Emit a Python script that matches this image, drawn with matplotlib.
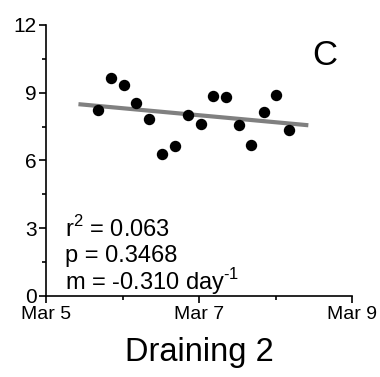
import matplotlib
matplotlib.use("Agg")
from matplotlib import pyplot as plt
from matplotlib.ticker import MultipleLocator
import numpy as np

plt.rcParams['font.family'] = ['Liberation Sans', 'DejaVu Sans']
plt.rcParams['mathtext.fontset'] = 'custom'
plt.rcParams['mathtext.rm'] = 'Liberation Sans'

# sampling times in days after Mar 5 00:00, measured values
days = [0.68, 0.85, 1.02, 1.18, 1.35, 1.52, 1.68, 1.86,
        2.02, 2.18, 2.35, 2.52, 2.68, 2.85, 3.01, 3.18]
values = [8.22, 9.66, 9.32, 8.52, 7.84, 6.27, 6.64, 8.00,
          7.61, 8.86, 8.80, 7.56, 6.67, 8.15, 8.89, 7.36]

# regression line
slope = -0.310
intercept = 8.62
fit_days = [0.42, 3.43]

xtick_pos = [0, 2, 4]
xtick_labels = ["Mar 5", "Mar 7", "Mar 9"]

fig = plt.figure(figsize=(3.8, 3.77), dpi=100)
ax = fig.add_axes([0.122, 0.215, 0.804, 0.719])

fit_x = np.array(fit_days)
ax.plot(fit_x, intercept + slope * fit_x, color="#808080", lw=3, solid_capstyle="butt", zorder=2)
ax.plot(days, values, "o", color="black", ms=7.2, zorder=3)

ax.set_xlim(0, 4)
ax.set_ylim(0, 12)
ax.set_xticks(xtick_pos)
ax.set_xticklabels(xtick_labels)
ax.xaxis.set_minor_locator(MultipleLocator(1))
ax.set_yticks([0, 3, 6, 9, 12])
ax.yaxis.set_minor_locator(MultipleLocator(1.5))

for side in ["top", "right"]:
    ax.spines[side].set_visible(False)
for side in ["left", "bottom"]:
    ax.spines[side].set_linewidth(1.2)

ax.tick_params(which="major", direction="out", length=5, width=1.2, labelsize=15, pad=2)
ax.tick_params(which="minor", direction="out", length=3, width=1.2)
ax.tick_params(axis="x", labelsize=14, pad=2)

ax.text(0.25, 2.95, r"r$^\mathregular{2}$ = 0.063", fontsize=17, va="center")
ax.text(0.25, 1.75, "p = 0.3468", fontsize=17, va="center")
ax.text(0.25, 0.65, "m = -0.310 day$^\\mathregular{\u2010 1}$", fontsize=17, va="center")
ax.text(3.65, 10.65, "C", fontsize=25, ha="center", va="center")

ax.set_xlabel("Draining 2", fontsize=23.5, labelpad=10)

fig.savefig("out.png", dpi=100)
